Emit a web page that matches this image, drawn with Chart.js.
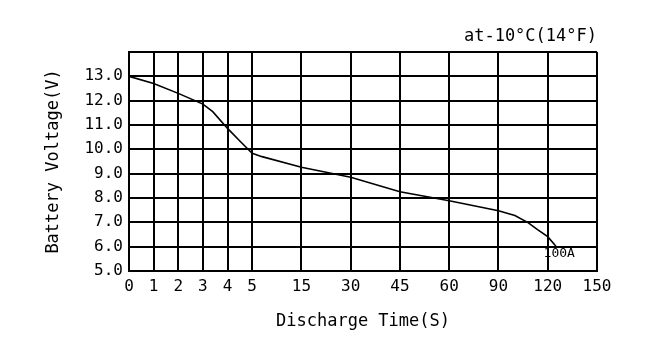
<!DOCTYPE html>
<html>
<head>
<meta charset="utf-8">
<script src="https://cdn.jsdelivr.net/npm/chart.js@4"></script>
<style>
  html, body { margin: 0; padding: 0; background: #fff; }
  #wrap { width: 650px; height: 350px; }
</style>
</head>
<body>
<div id="wrap"><canvas id="c" width="650" height="350"></canvas></div>
<script>
// ---- data ----
const chartTitle = 'at-10\u00B0C(14\u00B0F)';
const xTitle = 'Discharge Time(S)';
const yTitle = 'Battery Voltage(V)';
const seriesName = '100A';
const xTickLabels = [0, 1, 2, 3, 4, 5, 15, 30, 45, 60, 90, 120, 150];
const dischargeTime = [0, 1, 2, 3, 3.4, 4, 4.5, 5, 7, 15, 30, 45, 60, 90, 100, 108, 114, 120, 125];
const voltage = [13.0, 12.71, 12.3, 11.86, 11.55, 10.86, 10.34, 9.84, 9.7, 9.26, 8.85, 8.26, 7.89, 7.48, 7.28, 6.99, 6.69, 6.41, 6.02];
const yMin = 5, yMax = 14, yStep = 1;
const seriesLabelAt = { t: 127, v: 5.7 };

// axis transform: first six ticks one unit apart, later ticks two units apart
const xTickUnits = [];
xTickLabels.forEach((_, i) => xTickUnits.push(i === 0 ? 0 : xTickUnits[i - 1] + (i <= 5 ? 1 : 2)));
function toUnit(t) {
  for (let i = 0; i < xTickLabels.length - 1; i++) {
    const a = xTickLabels[i], b = xTickLabels[i + 1];
    if (t >= a && t <= b) return xTickUnits[i] + (t - a) / (b - a) * (xTickUnits[i + 1] - xTickUnits[i]);
  }
  return xTickUnits[xTickUnits.length - 1];
}

const points = dischargeTime.map((t, i) => ({ x: toUnit(t), y: voltage[i] }));
const FONT = "'DejaVu Sans Mono', 'Liberation Mono', monospace";

const seriesLabelPlugin = {
  id: 'seriesLabel',
  afterDatasetsDraw(chart) {
    const { ctx, scales } = chart;
    ctx.save();
    ctx.font = "13px " + FONT;
    ctx.fillStyle = '#000';
    ctx.textAlign = 'center';
    ctx.textBaseline = 'middle';
    ctx.fillText(seriesName, scales.x.getPixelForValue(toUnit(seriesLabelAt.t)), scales.y.getPixelForValue(seriesLabelAt.v));
    ctx.restore();
  }
};

new Chart(document.getElementById('c'), {
  type: 'line',
  data: {
    datasets: [{
      label: seriesName,
      data: points,
      borderColor: '#000',
      borderWidth: 1.6,
      pointRadius: 0,
      fill: false,
      tension: 0
    }]
  },
  options: {
    responsive: false,
    animation: false,
    layout: { padding: { left: 0, right: 53, top: 0, bottom: 0 } },
    plugins: {
      legend: { display: false },
      tooltip: { enabled: false },
      title: {
        display: true,
        text: chartTitle,
        align: 'end',
        color: '#000',
        font: { family: FONT, size: 17, weight: 'normal' },
        padding: { top: 26.5, bottom: 5.1 }
      }
    },
    scales: {
      x: {
        type: 'linear',
        min: 0,
        max: xTickUnits[xTickUnits.length - 1],
        afterBuildTicks(axis) { axis.ticks = xTickUnits.map(v => ({ value: v })); },
        afterFit(axis) { axis.height = 79; },
        grid: { color: '#000', lineWidth: 2, drawTicks: false },
        border: { color: '#000', width: 2 },
        ticks: {
          autoSkip: false,
          maxRotation: 0,
          padding: 6,
          color: '#000',
          font: { family: FONT, size: 16 },
          callback: (v, i) => String(xTickLabels[i])
        },
        title: {
          display: true,
          text: xTitle,
          color: '#000',
          font: { family: FONT, size: 17 },
          padding: { top: 0, bottom: 17.8 }
        }
      },
      y: {
        min: yMin,
        max: yMax,
        afterFit(axis) { axis.width = 129; },
        grid: { color: '#000', lineWidth: 2, drawTicks: false },
        border: { color: '#000', width: 2 },
        ticks: {
          stepSize: yStep,
          padding: 6,
          color: '#000',
          font: { family: FONT, size: 16 },
          callback: v => (v >= yMax ? '' : v.toFixed(1))
        },
        title: {
          display: true,
          text: yTitle,
          color: '#000',
          font: { family: FONT, size: 17 },
          padding: { top: 43, bottom: 0 }
        }
      }
    }
  },
  plugins: [seriesLabelPlugin]
});
</script>
</body>
</html>
